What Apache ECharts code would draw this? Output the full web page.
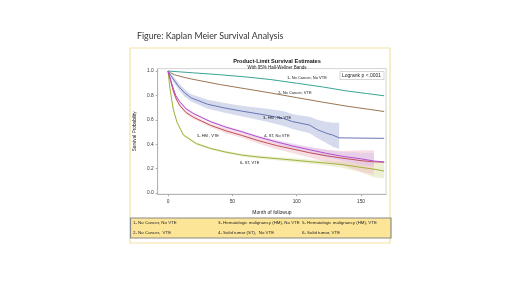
<!DOCTYPE html>
<html>
<head>
<meta charset="utf-8">
<script src="https://cdn.jsdelivr.net/npm/echarts@6/dist/echarts.min.js"></script>
<style>
  html, body { margin: 0; padding: 0; background: #fff; }
  #main { width: 520px; height: 292px; }
</style>
</head>
<body>
<div id="main"></div>
<script>
// ticks
var xTicks = [0, 50, 100, 150];
var yTicks = [0, 0.2, 0.4, 0.6, 0.8, 1.0];

// 1- No Cancer, No VTE
var m1 = [0, 20, 40, 60, 80, 100, 120, 140, 155, 168];
var s1 = [1.0, 0.985, 0.97, 0.952, 0.93, 0.9, 0.87, 0.835, 0.815, 0.797];
// 2- No Cancer, VTE
var m2 = [0, 2, 5, 10, 18, 40, 60, 80, 100, 120, 140, 155, 168];
var s2 = [1.0, 0.985, 0.97, 0.955, 0.935, 0.89, 0.855, 0.82, 0.782, 0.745, 0.71, 0.688, 0.668];
// 3- HM, No VTE
var m3 = [0, 3, 8, 13, 18, 31, 45, 57, 77, 90, 97, 110, 116, 123, 128, 133, 168];
var s3 = [1.0, 0.95, 0.877, 0.82, 0.78, 0.727, 0.695, 0.672, 0.637, 0.61, 0.585, 0.557, 0.52, 0.49, 0.475, 0.452, 0.448];
var lo3 = [1.0, 0.93, 0.85, 0.79, 0.75, 0.69, 0.655, 0.63, 0.585, 0.55, 0.525, 0.49, 0.45, 0.41, 0.38, 0.36, null];
var hi3 = [1.0, 0.97, 0.905, 0.85, 0.81, 0.765, 0.735, 0.715, 0.69, 0.67, 0.645, 0.625, 0.6, 0.585, 0.575, 0.575, null];
// 4- ST, No VTE
var m4 = [0, 2, 4, 6, 9, 14, 20, 26, 33, 45, 58, 70, 84, 97, 110, 123, 136, 150, 160, 168];
var s4 = [1.0, 0.93, 0.86, 0.8, 0.75, 0.69, 0.65, 0.62, 0.585, 0.54, 0.5, 0.46, 0.42, 0.385, 0.355, 0.325, 0.3, 0.28, 0.262, 0.255];
var lo4 = [1.0, 0.92, 0.85, 0.79, 0.74, 0.68, 0.64, 0.61, 0.575, 0.53, 0.49, 0.448, 0.405, 0.365, 0.33, 0.295, 0.265, 0.235, 0.22, null];
var hi4 = [1.0, 0.94, 0.87, 0.81, 0.76, 0.70, 0.66, 0.63, 0.595, 0.55, 0.51, 0.472, 0.435, 0.405, 0.38, 0.355, 0.335, 0.33, 0.33, null];
// 5- HM, VTE
var m5 = m4;
var s5 = [1.0, 0.92, 0.84, 0.78, 0.72, 0.66, 0.62, 0.59, 0.555, 0.51, 0.47, 0.43, 0.39, 0.36, 0.33, 0.305, 0.285, 0.265, 0.255, 0.252];
var lo5 = [1.0, 0.91, 0.825, 0.765, 0.705, 0.645, 0.605, 0.575, 0.54, 0.49, 0.45, 0.405, 0.36, 0.325, 0.29, 0.255, 0.225, 0.175, 0.15, null];
var hi5 = [1.0, 0.93, 0.855, 0.795, 0.735, 0.675, 0.635, 0.605, 0.57, 0.53, 0.49, 0.455, 0.42, 0.395, 0.37, 0.355, 0.345, 0.35, 0.35, null];
// 6- ST, VTE
var m6 = [0, 1.5, 4, 7, 12, 22, 33, 45, 58, 70, 84, 97, 110, 123, 136, 150, 160, 168];
var s6 = [1.0, 0.86, 0.69, 0.58, 0.475, 0.405, 0.365, 0.335, 0.31, 0.295, 0.282, 0.27, 0.257, 0.245, 0.232, 0.21, 0.195, 0.18];
var lo6 = [1.0, 0.85, 0.68, 0.57, 0.465, 0.395, 0.355, 0.325, 0.3, 0.283, 0.268, 0.255, 0.24, 0.225, 0.205, 0.17, 0.13, 0.12];
var hi6 = [1.0, 0.87, 0.70, 0.59, 0.485, 0.415, 0.375, 0.345, 0.32, 0.307, 0.296, 0.285, 0.275, 0.265, 0.258, 0.25, 0.25, 0.245];

var legendRow1 = ['1- No Cancer, No VTE', '3- Hematologic malignancy (HM), No VTE', '5- Hematologic malignancy (HM), VTE'];
var legendRow2 = ['2- No Cancer,  VTE', '4- Solid tumor (ST),  No VTE', '6- Solid tumor, VTE'];

function pairs(m, s) {
    var out = [];
    for (var i = 0; i < m.length; i++) out.push([m[i], s[i]]);
    return out;
}

function bandSeries(m, lo, hi, color) {
    return {
        type: 'custom',
        silent: true,
        z: 1,
        data: [0],
        renderItem: function (params, api) {
            var pts = [];
            for (var i = 0; i < m.length; i++) {
                if (hi[i] != null) pts.push(api.coord([m[i], hi[i]]));
            }
            for (var j = m.length - 1; j >= 0; j--) {
                if (lo[j] != null) pts.push(api.coord([m[j], lo[j]]));
            }
            return {
                type: 'polygon',
                shape: { points: pts },
                style: { fill: color, stroke: null }
            };
        }
    };
}

function lineSeries(m, s, color) {
    return {
        type: 'line',
        data: pairs(m, s),
        symbol: 'none',
        z: 3,
        lineStyle: { color: color, width: 1 },
        silent: true
    };
}

var myChart = echarts.init(document.getElementById('main'));
var small = { fontFamily: 'Liberation Sans', fontSize: 4.5, fill: '#222' };

var option = {
    animation: false,
    grid: {
        left: 157.7, right: 133.9, top: 68.6, bottom: 97.8,
        show: true, borderColor: '#c8c8c8', borderWidth: 0.8, backgroundColor: '#fff'
    },
    xAxis: {
        type: 'value', min: -8, max: 169.5,
        name: 'Month of followup', nameLocation: 'middle', nameGap: 16,
        nameTextStyle: { fontFamily: 'Liberation Sans', fontSize: 5, color: '#222' },
        axisLine: { onZero: false, lineStyle: { color: '#aaa', width: 0.8 } },
        axisTick: { customValues: xTicks, length: 2, lineStyle: { color: '#aaa' } },
        axisLabel: { customValues: xTicks, fontFamily: 'Liberation Sans', fontSize: 4.8, color: '#333', margin: 5 },
        splitLine: { show: false }
    },
    yAxis: {
        type: 'value', min: -0.01, max: 1.02,
        name: 'Survival Probability', nameLocation: 'middle', nameGap: 20, nameRotate: 90,
        nameTextStyle: { fontFamily: 'Liberation Sans', fontSize: 4.7, color: '#222' },
        axisLine: { show: true, onZero: false, lineStyle: { color: '#aaa', width: 0.8 } },
        axisTick: { show: true, customValues: yTicks, length: 2, lineStyle: { color: '#aaa' } },
        axisLabel: {
            customValues: yTicks, fontFamily: 'Liberation Sans', fontSize: 4.8, color: '#333', margin: 4,
            formatter: function (v) { return v.toFixed(1); }
        },
        splitLine: { show: false }
    },
    title: [
        { text: 'Figure: Kaplan Meier Survival Analysis', left: 132, top: 27,
          textStyle: { fontFamily: 'Lato', fontSize: 8.8, fontWeight: 'normal', color: '#333' } },
        { text: 'Product-Limit Survival Estimates', left: 272, top: 53, textAlign: 'center',
          textStyle: { fontFamily: 'Liberation Sans', fontSize: 5.6, fontWeight: 'bold', color: '#111' } },
        { text: 'With 95% Hall-Wellner Bands', left: 272, top: 60.5, textAlign: 'center',
          textStyle: { fontFamily: 'Liberation Sans', fontSize: 4.5, fontWeight: 'normal', color: '#222' } }
    ],
    graphic: [
        { type: 'rect', z: -10, shape: { x: 130, y: 48, width: 260, height: 195 },
          style: { fill: '#fff', stroke: '#f1e3a6', lineWidth: 1.2 } },
        { type: 'rect', z: 10, shape: { x: 130.5, y: 218, width: 260.5, height: 20 },
          style: { fill: '#fce596', stroke: '#8a8a8a', lineWidth: 1.2 } },
        { type: 'rect', z: 10, shape: { x: 340, y: 71.5, width: 44, height: 8 },
          style: { fill: '#fff', stroke: '#bbb', lineWidth: 0.6 } },
        { type: 'text', z: 11, x: 342, y: 73, style: Object.assign({}, small, { text: 'Logrank p <.0001', fontSize: 5 }) },
        { type: 'text', z: 11, x: 287, y: 75.5, style: Object.assign({}, small, { text: '1- No Cancer, No VTE', fontSize: 4 }) },
        { type: 'text', z: 11, x: 278, y: 91, style: Object.assign({}, small, { text: '2- No Cancer, VTE', fontSize: 4 }) },
        { type: 'text', z: 11, x: 263, y: 116, style: Object.assign({}, small, { text: '3- HM , No VTE', fontSize: 4 }) },
        { type: 'text', z: 11, x: 264, y: 134, style: Object.assign({}, small, { text: '4- ST, No VTE', fontSize: 4 }) },
        { type: 'text', z: 11, x: 197, y: 134, style: Object.assign({}, small, { text: '5- HM , VTE', fontSize: 4 }) },
        { type: 'text', z: 11, x: 240, y: 161, style: Object.assign({}, small, { text: '6- ST, VTE', fontSize: 4 }) },
        { type: 'text', z: 11, x: 133, y: 221, style: Object.assign({}, small, { text: legendRow1[0], fontSize: 4.4 }) },
        { type: 'text', z: 11, x: 218, y: 221, style: Object.assign({}, small, { text: legendRow1[1], fontSize: 4.4 }) },
        { type: 'text', z: 11, x: 302, y: 221, style: Object.assign({}, small, { text: legendRow1[2], fontSize: 4.4 }) },
        { type: 'text', z: 11, x: 133, y: 230.5, style: Object.assign({}, small, { text: legendRow2[0], fontSize: 4.4 }) },
        { type: 'text', z: 11, x: 218, y: 230.5, style: Object.assign({}, small, { text: legendRow2[1], fontSize: 4.4 }) },
        { type: 'text', z: 11, x: 302, y: 230.5, style: Object.assign({}, small, { text: legendRow2[2], fontSize: 4.4 }) }
    ],
    series: [
        bandSeries(m3, lo3, hi3, 'rgba(190,200,228,0.65)'),
        bandSeries(m6, lo6, hi6, 'rgba(220,226,170,0.5)'),
        bandSeries(m5, lo5, hi5, 'rgba(240,190,200,0.5)'),
        bandSeries(m4, lo4, hi4, 'rgba(220,190,235,0.5)'),
        lineSeries(m1, s1, '#3aa595'),
        lineSeries(m2, s2, '#9a7650'),
        lineSeries(m3, s3, '#6a76b5'),
        lineSeries(m6, s6, '#a3b23e'),
        lineSeries(m5, s5, '#c2505a'),
        lineSeries(m4, s4, '#b44fcf')
    ]
};
myChart.setOption(option);
</script>
</body>
</html>
